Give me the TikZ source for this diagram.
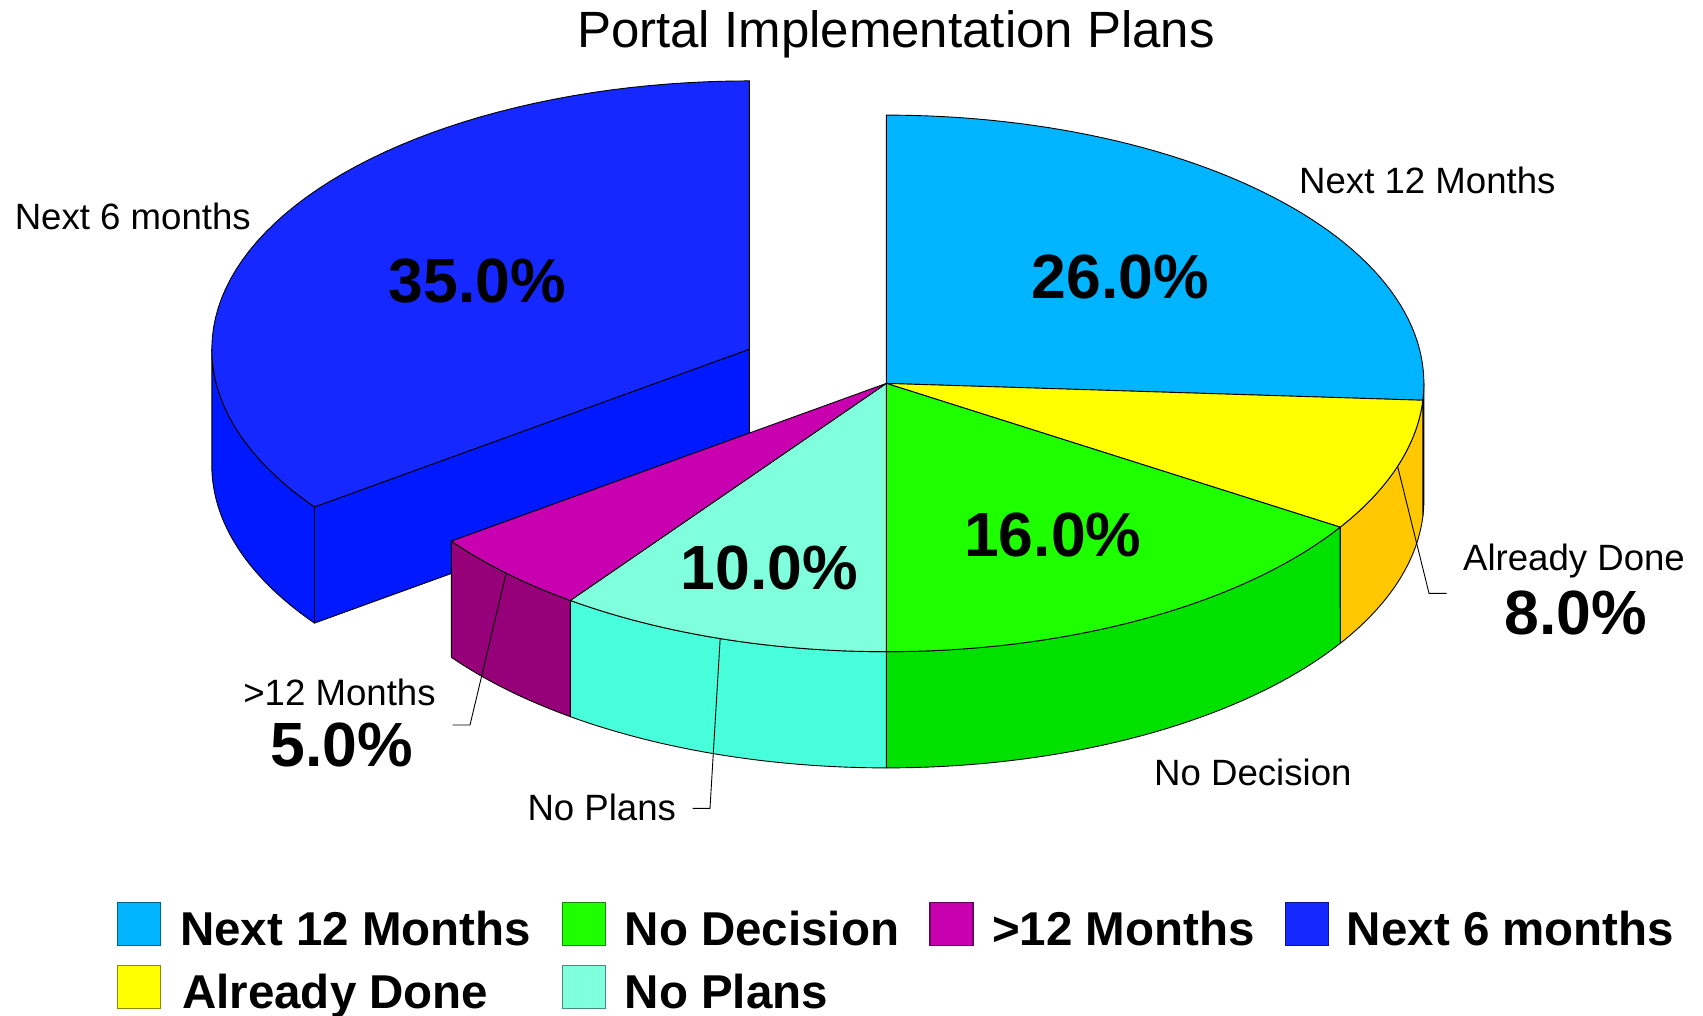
\documentclass[tikz,border=0pt]{standalone}
\usepackage{fontspec}
\setmainfont{Liberation Sans}
\definecolor{cA}{RGB}{0,180,255}
\definecolor{cAs}{RGB}{0,150,225}
\definecolor{cB}{RGB}{255,255,0}
\definecolor{cBs}{RGB}{255,200,0}
\definecolor{cC}{RGB}{30,255,0}
\definecolor{cCs}{RGB}{0,225,0}
\definecolor{cD}{RGB}{127,255,220}
\definecolor{cDs}{RGB}{72,255,220}
\definecolor{cE}{RGB}{200,0,175}
\definecolor{cEs}{RGB}{150,0,120}
\definecolor{cF}{RGB}{20,40,255}
\definecolor{cFs}{RGB}{0,25,255}
\def\cx{886.3}\def\cy{383.4}\def\rx{537.6}\def\ry{268.3}\def\dep{116.2}
\def\bx{749.4}\def\by{349.2}
\newcommand\topface[5]{%
  \filldraw[fill=#5,draw=black,line width=0.9pt,line join=round]
    (#1,#2) -- plot[domain=#3:#4,samples=60] ({#1+\rx*cos(\x)},{#2-\ry*sin(\x)}) -- cycle;}
\newcommand\sideface[5]{%
  \filldraw[fill=#5,draw=black,line width=0.9pt,line join=round]
    plot[domain=#3:#4,samples=40] ({#1+\rx*cos(\x)},{#2-\ry*sin(\x)})
    -- plot[domain=#4:#3,samples=40] ({#1+\rx*cos(\x)},{#2+\dep-\ry*sin(\x)}) -- cycle;}
\tikzset{
  lbl/.style={font=\fontsize{36.6}{40}\selectfont,inner sep=0pt},
  pct/.style={font=\bfseries\fontsize{62.5}{66}\selectfont,inner sep=0pt,anchor=base},
  legtxt/.style={font=\bfseries\fontsize{47.5}{50}\selectfont,inner sep=0pt,anchor=base west},
  legsq/.style={minimum width=43pt,minimum height=43pt,inner sep=0pt,line width=1.2pt,fill=#1,draw=#1!55!black},
  leader/.style={draw=black,line width=0.9pt}
}
\begin{document}
\begin{tikzpicture}[x=1pt,y=-1pt]
\useasboundingbox (0,0) rectangle (1703,1016);
\fill[white] (0,0) rectangle (1703,1016);
% title
\node[font=\fontsize{51}{56}\selectfont,inner sep=0pt,anchor=base] (title) at (896,47.5) {Portal Implementation Plans};
% exploded slice: Next 6 months
\sideface{\bx}{\by}{180}{216}{cFs}
\filldraw[fill=cFs,draw=black,line width=0.9pt,line join=round]
  (\bx,\by) -- ({\bx+\rx*cos(216)},{\by-\ry*sin(216)}) -- ({\bx+\rx*cos(216)},{\by+\dep-\ry*sin(216)}) -- (\bx,{\by+\dep}) -- cycle;
\topface{\bx}{\by}{90}{216}{cF}
% main pie sides
\sideface{\cx}{\cy}{-3.6}{0}{cAs}
\sideface{\cx}{\cy}{-32.4}{-3.6}{cBs}
\sideface{\cx}{\cy}{-90}{-32.4}{cCs}
\sideface{\cx}{\cy}{-126}{-90}{cDs}
\sideface{\cx}{\cy}{-144}{-126}{cEs}
% main pie tops
\topface{\cx}{\cy}{-3.6}{90}{cA}
\topface{\cx}{\cy}{-32.4}{-3.6}{cB}
\topface{\cx}{\cy}{-90}{-32.4}{cC}
\topface{\cx}{\cy}{-126}{-90}{cD}
\topface{\cx}{\cy}{-144}{-126}{cE}
% leader anchor coordinates
\coordinate (adS) at ({\cx+\rx*cos(-18)},{\cy-\ry*sin(-18)});
\coordinate (adM) at (1429,593.3);
\coordinate (adE) at (1446.7,593.3);
\coordinate (gtS) at ({\cx+\rx*cos(-135)},{\cy-\ry*sin(-135)});
\coordinate (gtM) at (470,725);
\coordinate (gtE) at (452.7,725);
\coordinate (npS) at ({\cx+\rx*cos(-108)},{\cy-\ry*sin(-108)});
\coordinate (npM) at (710,808.3);
\coordinate (npE) at (692.7,808.3);
\draw[leader] (adS) -- (adM) -- (adE);
\draw[leader] (gtS) -- (gtM) -- (gtE);
\draw[leader] (npS) -- (npM) -- (npE);
% percentages inside
\node[pct] (p35) at (477.3,303) {35.0\%};
\node[pct] (p26) at (1120.4,299) {26.0\%};
\node[pct] (p16) at (1052.8,556) {16.0\%};
\node[pct] (p10) at (769.2,589.3) {10.0\%};
% outside labels
\node[lbl,anchor=base west] (l6) at (14.6,230) {Next 6 months};
\node[lbl,anchor=base west] (l12) at (1299,193.3) {Next 12 Months};
\node[lbl,anchor=base west] (lnd) at (1154,785) {No Decision};
\node[lbl,anchor=base west] (lnp) at (527.3,820) {No Plans};
\node[lbl,anchor=base] (lgt) at (339.5,705) {>12 Months};
\node[pct] (pgt) at (341.5,766) {5.0\%};
\node[lbl,anchor=base] (lad) at (1574,570) {Already Done};
\node[pct] (pad) at (1575.5,634) {8.0\%};
% legend
\node[legsq=cA] (k1) at (139,923.6) {};
\node[legtxt] (t1) at (180,945) {Next 12 Months};
\node[legsq=cC] (k2) at (584.3,923.6) {};
\node[legtxt] (t2) at (624.5,945) {No Decision};
\node[legsq=cE] (k3) at (951.4,923.6) {};
\node[legtxt] (t3) at (992,945) {>12 Months};
\node[legsq=cF] (k4) at (1307.3,923.6) {};
\node[legtxt] (t4) at (1346.7,945) {Next 6 months};
\node[legsq=cB] (k5) at (139,987.2) {};
\node[legtxt] (t5) at (182,1008.3) {Already Done};
\node[legsq=cD] (k6) at (584.3,987.2) {};
\node[legtxt] (t6) at (624.5,1008.3) {No Plans};
\end{tikzpicture}
\end{document}
